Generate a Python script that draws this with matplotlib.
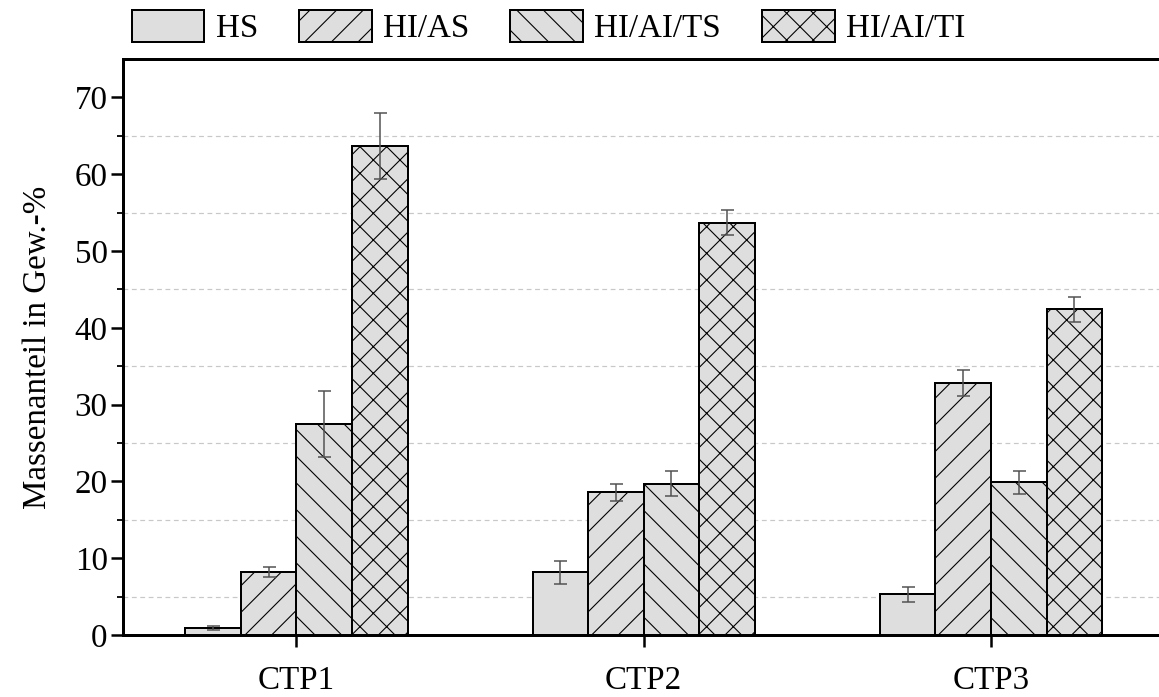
import numpy as np
import matplotlib
matplotlib.use("Agg")
import matplotlib.pyplot as plt
from matplotlib.ticker import MultipleLocator

categories = ["CTP1", "CTP2", "CTP3"]
series = ["HS", "HI/AS", "HI/AI/TS", "HI/AI/TI"]

hs = [0.9, 8.2, 5.3]
hs_err = [0.3, 1.5, 0.95]
hi_as = [8.2, 18.6, 32.8]
hi_as_err = [0.65, 1.1, 1.7]
hi_ai_ts = [27.5, 19.7, 19.9]
hi_ai_ts_err = [4.3, 1.6, 1.5]
hi_ai_ti = [63.7, 53.7, 42.4]
hi_ai_ti_err = [4.3, 1.6, 1.6]

hatches = ["", "//", "\\\\", "xx"]

DPI = 160


def px(v):
    # pixels -> points at the output dpi
    return v * 72.0 / DPI


FS = px(33)

plt.rcParams["font.family"] = ["Liberation Serif", "DejaVu Serif"]
plt.rcParams["hatch.linewidth"] = px(1.1)

fig = plt.figure(figsize=(1159 / DPI, 697 / DPI), dpi=DPI)
ax = fig.add_axes([0.1059, 0.0889, 0.8990, 0.8264])

values = [hs, hi_as, hi_ai_ts, hi_ai_ti]
errors = [hs_err, hi_as_err, hi_ai_ts_err, hi_ai_ti_err]
x = np.arange(1, len(categories) + 1)
w = 0.16

for i, (vals, errs) in enumerate(zip(values, errors)):
    pos = x + (i - 1.5) * w
    ax.bar(pos, vals, width=w, color="#dedede", edgecolor="black",
           linewidth=px(2), hatch=hatches[i], label=series[i], zorder=2)
    ax.errorbar(pos, vals, yerr=errs, fmt="none", ecolor="#505050",
                elinewidth=px(1.5), capsize=px(6.5), capthick=px(1.5),
                zorder=3)

ax.set_xlim(0.5, 3.5)
ax.set_ylim(0, 75)
ax.set_xticks(x)
ax.set_xticklabels(categories)
ax.yaxis.set_major_locator(MultipleLocator(10))
ax.set_yticks([5, 15, 25, 35, 45, 55, 65], minor=True)

ax.grid(True, which="minor", axis="y", linestyle=(0, (4, 3)),
        color="#c8c8c8", linewidth=px(1.2), zorder=0)
ax.set_axisbelow(True)

ax.tick_params(axis="both", which="major", direction="out", length=px(12),
               width=px(2.5), labelsize=FS)
ax.tick_params(axis="y", which="major", pad=px(3))
ax.tick_params(axis="x", which="major", pad=px(18))
ax.tick_params(axis="y", which="minor", direction="out", length=px(6),
               width=px(1.8))
ax.tick_params(axis="x", which="minor", length=0)

for s in ["left", "bottom", "top"]:
    ax.spines[s].set_linewidth(px(3))
ax.spines["right"].set_visible(False)

ax.set_ylabel("Massenanteil in Gew.-%", fontsize=FS, labelpad=px(22))

fig.legend(loc="center left", bbox_to_anchor=(0.1136, 0.9613), ncol=4,
           frameon=False, fontsize=FS, handlelength=2.2, handleheight=1.1,
           handletextpad=0.35, columnspacing=1.24, borderpad=0,
           borderaxespad=0)

fig.savefig("out.png", dpi=DPI)
